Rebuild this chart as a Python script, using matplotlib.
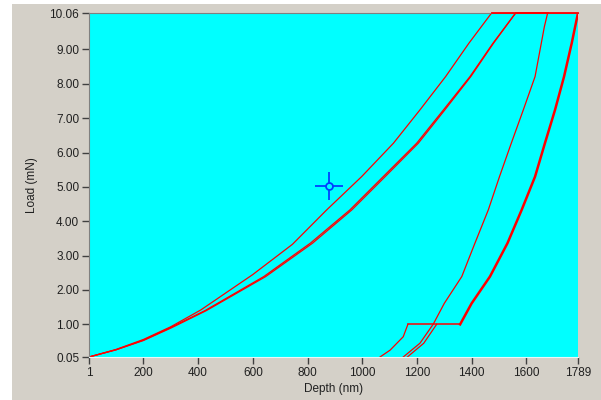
import matplotlib
matplotlib.use("Agg")
import matplotlib.pyplot as plt
from matplotlib.patches import Rectangle

# Loading curves (depth nm, load mN)
load1_depth = [1, 100, 200, 300, 410, 600, 745, 870, 998, 1114, 1211, 1305, 1390, 1473]
load1_load = [0.05, 0.27, 0.56, 0.93, 1.42, 2.45, 3.33, 4.33, 5.30, 6.27, 7.24, 8.21, 9.18, 10.06]

load2_depth = [1, 100, 200, 300, 425, 640, 810, 955, 1077, 1199, 1297, 1394, 1478, 1561]
load2_load = [0.05, 0.26, 0.54, 0.91, 1.40, 2.39, 3.36, 4.33, 5.30, 6.27, 7.24, 8.21, 9.18, 10.06]

load3_depth = [1, 100, 200, 300, 430, 647, 818, 962, 1084, 1205, 1302, 1397, 1480, 1561]
load3_load = [0.05, 0.26, 0.53, 0.89, 1.40, 2.39, 3.36, 4.33, 5.30, 6.27, 7.24, 8.21, 9.18, 10.06]

# Hold at max load
hold1_depth = [1473, 1678]
hold2_depth = [1561, 1789]
hold_load = [10.06, 10.06]

# Unloading curves
unload1_depth = [1678, 1666, 1632, 1589, 1545, 1502, 1461, 1412, 1364, 1300, 1260, 1211, 1150]
unload1_load = [10.06, 9.66, 8.21, 7.24, 6.27, 5.30, 4.33, 3.36, 2.39, 1.61, 1.01, 0.45, 0.05]

unload2_depth = [1789, 1766, 1738, 1705, 1668, 1632, 1583, 1531, 1467, 1400, 1358]
unload2_load = [10.06, 9.18, 8.21, 7.24, 6.27, 5.30, 4.33, 3.36, 2.39, 1.61, 1.00]

unload3_depth = [1272, 1225, 1165]
unload3_load = [1.00, 0.45, 0.05]

# Hold at low load and final segment
low_hold_depth = [1167, 1358]
low_hold_load = [1.00, 1.00]

tail_depth = [1065, 1102, 1150, 1167]
tail_load = [0.05, 0.25, 0.64, 1.00]

cursor_x, cursor_y = 879, 5.03

x_ticks = [1, 200, 400, 600, 800, 1000, 1200, 1400, 1600, 1789]
y_ticks = [0.05, 1, 2, 3, 4, 5, 6, 7, 8, 9, 10.06]
y_labels = ["0.05", "1.00", "2.00", "3.00", "4.00", "5.00", "6.00", "7.00", "8.00", "9.00", "10.06"]

plt.rcParams['font.family'] = ['Liberation Sans', 'DejaVu Sans']

fig = plt.figure(figsize=(6.01, 4.0), dpi=100, facecolor='white')
fig.patches.append(Rectangle((12 / 601, 0), 1, 1 - 4 / 400, transform=fig.transFigure,
                             facecolor='#d4d0c8', edgecolor='none', zorder=-10))
ax = fig.add_axes([89 / 601, 1 - 357 / 400, 489 / 601, 344 / 400])
ax.set_facecolor('#00ffff')

red = '#ff0000'
lw = 0.9
ax.plot(load1_depth, load1_load, color=red, lw=lw)
ax.plot(load2_depth, load2_load, color=red, lw=lw)
ax.plot(load3_depth, load3_load, color=red, lw=lw)
ax.plot(hold1_depth, hold_load, color=red, lw=1.3, clip_on=False, zorder=3)
ax.plot(hold2_depth, hold_load, color=red, lw=1.3, clip_on=False, zorder=3)
ax.plot(unload1_depth, unload1_load, color=red, lw=lw)
ax.plot(unload2_depth, unload2_load, color=red, lw=1.8)
ax.plot(unload3_depth, unload3_load, color=red, lw=lw)
ax.plot(low_hold_depth, low_hold_load, color=red, lw=1.1)
ax.plot(tail_depth, tail_load, color=red, lw=lw)

# cursor
ax.plot([cursor_x], [cursor_y], marker='+', markersize=20, markeredgewidth=1.3, color='#0040ff')
ax.plot([cursor_x], [cursor_y], marker='o', markersize=5, markeredgewidth=1.3,
        markerfacecolor='#00ffff', markeredgecolor='#0040ff')

ax.set_xlim(1, 1789)
ax.set_ylim(0.05, 10.06)
ax.set_xticks(x_ticks)
ax.set_xticklabels([str(t) for t in x_ticks])
ax.set_yticks(y_ticks)
ax.set_yticklabels(y_labels)
ax.tick_params(direction='out', length=5, width=1, color='#404040', labelcolor='#202020',
               labelsize=8.5, pad=2)

ax.spines['right'].set_visible(False)
ax.spines['left'].set_color('#808080')
ax.spines['top'].set_color('#808080')
ax.spines['bottom'].set_color('#e8f8f8')

ax.set_xlabel('Depth (nm)', fontsize=8.5, color='#202020', labelpad=3)
ax.set_ylabel('Load (mN)', fontsize=8.5, color='#202020', labelpad=8)

fig.savefig('out.png', dpi=100, facecolor=fig.get_facecolor())
